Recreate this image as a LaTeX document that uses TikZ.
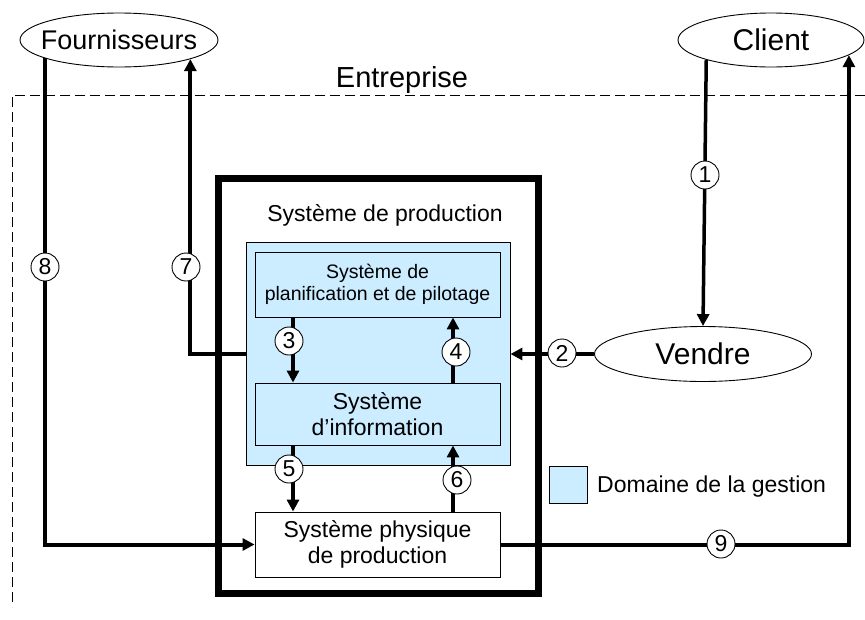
\documentclass[tikz,border=0pt]{standalone}
\usepackage{fontspec}
\setmainfont{Liberation Sans}
\usetikzlibrary{arrows.meta,shapes.geometric}
\definecolor{gestion}{RGB}{204,236,255}
\begin{document}
\begin{tikzpicture}[x=1pt,y=-1pt,
  ell/.style={draw,ellipse,fill=white,line width=0.9pt,inner sep=0pt},
  box/.style={draw,rectangle,fill=white,line width=0.9pt,inner sep=0pt,align=center},
  conn/.style={line width=4pt},
  arr/.style={conn,-{Triangle[length=12pt,width=12pt]}},
  num/.style={draw,circle,fill=white,line width=0.9pt,inner sep=0pt,minimum size=28pt,font=\fontsize{23}{26}\selectfont},
  fbig/.style={font=\fontsize{29}{32}\selectfont},
  fmid/.style={font=\fontsize{23}{26}\selectfont},
]
\useasboundingbox (0,0) rectangle (865,619);

% enterprise boundary
\draw[line width=0.9pt,dash pattern=on 10pt off 5pt] (865,95) -- (12,95) -- (12,607);
\node[font=\fontsize{29}{32}\selectfont] (entr) at (402,80) {Entreprise};

% production system
\node[draw,rectangle,line width=7pt,minimum width=320pt,minimum height=415pt] (prod) at (378,385.5) {};
\node[fmid] (prodt) at (385,215) {Système de production};
\node[draw,rectangle,fill=gestion,line width=0.9pt,minimum width=264pt,minimum height=223pt] (blue) at (378,353.5) {};
\node[box,fill=gestion,minimum width=245pt,minimum height=65pt,font=\fontsize{19.5}{22}\selectfont] (plan) at (377.5,284.5) {Système de\\planification et de pilotage};
\node[box,fill=gestion,minimum width=245pt,minimum height=62pt,fmid] (info) at (377.5,414) {Système\\d’information};
\node[box,minimum width=245pt,minimum height=65pt,fmid] (phys) at (377.5,544.5) {Système physique\\de production};

% legend
\node[draw,rectangle,fill=gestion,line width=0.9pt,minimum width=38pt,minimum height=37pt] (leg) at (568,484.5) {};
\node[fmid,anchor=west,inner sep=0pt] (legt) at (597,487) {Domaine de la gestion};

% outer actors
\node[ell,minimum width=198pt,minimum height=54pt] (four) at (119,40) {};
\node[font=\fontsize{27}{30}\selectfont,inner sep=0pt] (fourt) at (four.center) {Fournisseurs};
\node[ell,minimum width=186pt,minimum height=54pt,font=\fontsize{30}{33}\selectfont] (client) at (771,40) {Client};
\node[ell,minimum width=217pt,minimum height=55pt,font=\fontsize{30}{33}\selectfont] (vendre) at (703,354) {Vendre};

% connectors
\draw[arr,line width=3.5pt] (client.197.5) -- (vendre.north);
\draw[arr] (vendre.west) -- (vendre.west -| blue.east);
\draw[arr] (plan.south -| 293,0) -- (info.north -| 293,0);
\draw[arr] (info.north -| 453,0) -- (plan.south -| 453,0);
\draw[arr] (info.south -| 293,0) -- (phys.north -| 293,0);
\draw[arr] (phys.north -| 453,0) -- (info.south -| 453,0);
\draw[arr] (blue.west) -| (four.-15.7);
\draw[arr] (four.194.8) |- (phys.west);
\draw[arr] (phys.east) -| (client.-11.6);

% numbers
\node[num] (n1) at (705,175) {1};
\node[num] (n2) at (562,353) {2};
\node[num] (n3) at (289,341) {3};
\node[num] (n4) at (456,352) {4};
\node[num] (n5) at (289,469) {5};
\node[num] (n6) at (457,480) {6};
\node[num] (n7) at (186,267) {7};
\node[num] (n8) at (45,267) {8};
\node[num] (n9) at (721,544) {9};
\end{tikzpicture}
\end{document}
